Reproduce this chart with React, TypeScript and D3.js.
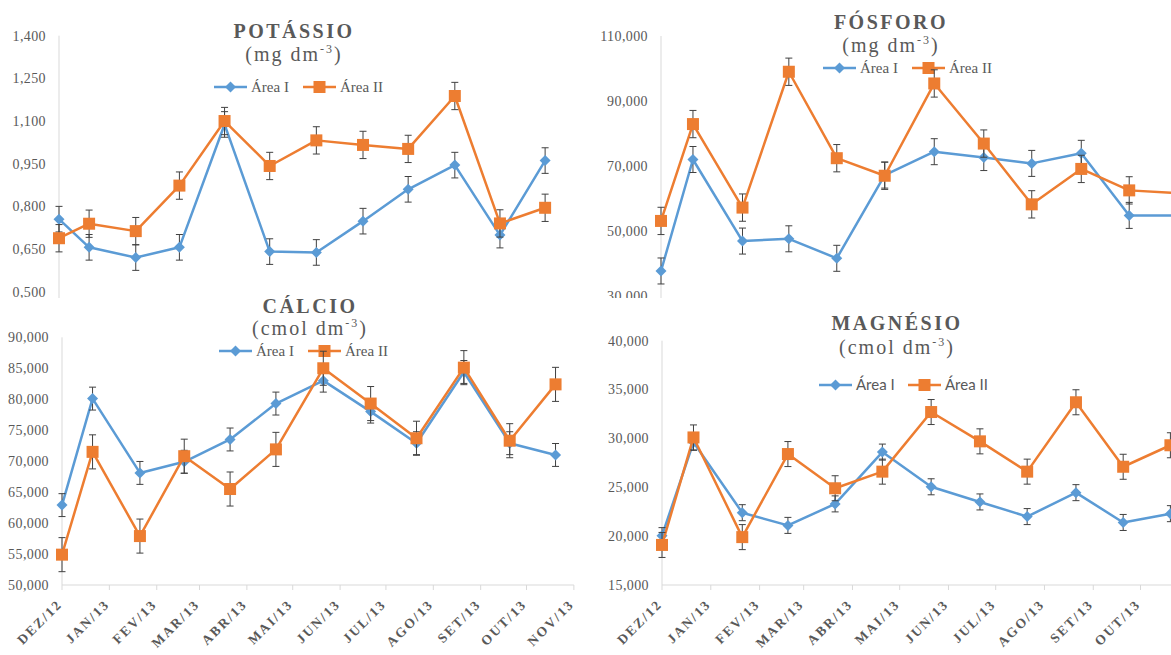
import React from 'react'
import * as d3 from 'd3'

const W = 1171
const H = 655
const BLUE = '#5B9BD5'
const ORANGE = '#ED7D31'
const GREY = '#595959'
const AXIS = '#D9D9D9'
const SERIF = '"Liberation Serif", "Times New Roman", serif'

// sampling dates (date axis, ticks on the 1st of each month)
const sampleDates = [
    '2012-12-01', '2012-12-21', '2013-01-21', '2013-02-19', '2013-03-21', '2013-04-20',
    '2013-05-21', '2013-06-21', '2013-07-21', '2013-08-21', '2013-09-20', '2013-10-20',
]
const monthLabels = [
    'DEZ/12', 'JAN/13', 'FEV/13', 'MAR/13', 'ABR/13', 'MAI/13',
    'JUN/13', 'JUL/13', 'AGO/13', 'SET/13', 'OUT/13', 'NOV/13',
]

const potassioA = [0.755, 0.656, 0.62, 0.656, 1.088, 0.641, 0.638, 0.748, 0.86, 0.945, 0.699, 0.961]
const potassioB = [0.688, 0.739, 0.713, 0.873, 1.1, 0.942, 1.032, 1.016, 1.002, 1.188, 0.74, 0.795]
const potassioErr = [0.045, 0.048]
const potassioTicks = [0.5, 0.65, 0.8, 0.95, 1.1, 1.25, 1.4]

const fosforoA = [37.7, 72.0, 46.9, 47.6, 41.6, 67.2, 74.4, 72.6, 70.8, 73.9, 54.8, 54.8]
const fosforoB = [53.1, 82.9, 57.2, 99.0, 72.4, 67.0, 95.4, 76.9, 58.2, 69.1, 62.5, 61.7]
const fosforoErr = [4.0, 4.2]
const fosforoTicks = [30, 50, 70, 90, 110]

const calcioA = [62.9, 80.1, 68.1, 69.9, 73.5, 79.3, 83.0, 78.0, 72.9, 84.4, 72.9, 71.0]
const calcioB = [54.9, 71.5, 57.9, 70.8, 65.5, 71.9, 85.0, 79.3, 73.7, 85.1, 73.3, 82.4]
const calcioErr = [1.85, 2.75]
const calcioTicks = [50, 55, 60, 65, 70, 75, 80, 85, 90]

const magnesioA = [20.05, 29.6, 22.4, 21.1, 23.3, 28.6, 25.05, 23.5, 22.0, 24.45, 21.4, 22.3]
const magnesioB = [19.1, 30.1, 19.9, 28.4, 24.9, 26.6, 32.7, 29.7, 26.6, 33.7, 27.1, 29.3]
const magnesioErr = [0.82, 1.28]
const magnesioTicks = [15, 20, 25, 30, 35, 40]

const parse = d3.timeParse('%Y-%m-%d')
const dates = sampleDates.map((d) => parse(d) as Date)
const axisStart = new Date(2012, 11, 1)
const axisEnd = new Date(2013, 10, 1)
const monthTicks = d3.timeMonth.range(axisStart, d3.timeDay.offset(axisEnd, 1))
const fmt = (v: number) => d3.format('.3f')(v).replace('.', ',')

const panels = [
    {
        clip: [0, 0, 590, 298], title: 'POTÁSSIO', unit: 'mg dm', cx: 294, titleY: 38, unitY: 61,
        legX: 214, legY: 87, legFont: SERIF, x0: 59, ppd: 1.505,
        yDomain: [0.5, 1.4], yRange: [291.7, 35.7], ticks: potassioTicks,
        a: potassioA, b: potassioB, err: potassioErr, showX: false,
    },
    {
        clip: [590, 0, 581, 298], title: 'FÓSFORO', unit: 'mg dm', cx: 891, titleY: 29, unitY: 52,
        legX: 823, legY: 68, legFont: SERIF, x0: 661, ppd: 1.598,
        yDomain: [30, 110], yRange: [296, 36], ticks: fosforoTicks,
        a: fosforoA, b: fosforoB, err: fosforoErr, showX: false,
    },
    {
        clip: [0, 288, 590, 367], title: 'CÁLCIO', unit: 'cmol dm', cx: 310, titleY: 312.5, unitY: 335,
        legX: 219, legY: 351, legFont: SERIF, x0: 62, ppd: 1.528,
        yDomain: [50, 90], yRange: [585, 337.3], ticks: calcioTicks,
        a: calcioA, b: calcioB, err: calcioErr, showX: true,
    },
    {
        clip: [590, 300, 581, 355], title: 'MAGNÉSIO', unit: 'cmol dm', cx: 897, titleY: 330, unitY: 354,
        legX: 819, legY: 385, legFont: 'Lato, "Open Sans", sans-serif', x0: 662, ppd: 1.574,
        yDomain: [15, 40], yRange: [585, 340.7], ticks: magnesioTicks,
        a: magnesioA, b: magnesioB, err: magnesioErr, showX: true,
    },
]

const diamond = (x: number, y: number, r: number) => `M${x},${y - r}L${x + r},${y}L${x},${y + r}L${x - r},${y}Z`

const Marker = ({ kind, x, y, color }) =>
    kind === 'diamond' ? (
        <path d={diamond(x, y, 5.5)} fill={color} />
    ) : (
        <rect x={x - 6} y={y - 6} width={12} height={12} fill={color} />
    )

const Panel = ({ p }) => {
    const [cx0, cy0, cw, ch] = p.clip
    const x = d3.scaleTime().domain([axisStart, axisEnd]).range([p.x0, p.x0 + 335 * p.ppd])
    const y = d3.scaleLinear().domain(p.yDomain).range(p.yRange)
    const line = d3
        .line<number>()
        .x((_, i) => x(dates[i]))
        .y((v) => y(v))
    const series = [
        { vals: p.a, err: p.err[0], color: BLUE, kind: 'diamond', name: 'Área I' },
        { vals: p.b, err: p.err[1], color: ORANGE, kind: 'square', name: 'Área II' },
    ]
    const axisY = p.yRange[0]
    const right = cx0 + cw
    const xEnd = Math.min(x(axisEnd), right)

    return (
        <svg x={cx0} y={cy0} width={cw} height={ch} viewBox={`${cx0} ${cy0} ${cw} ${ch}`}>
            {/* y axis */}
            <line x1={p.x0} x2={p.x0} y1={p.yRange[1]} y2={p.showX ? axisY : cy0 + ch} stroke={AXIS} />
            {p.ticks.map((t) => (
                <text
                    key={t}
                    x={p.x0 - 13}
                    y={y(t)}
                    dy="0.35em"
                    textAnchor="end"
                    fontFamily={SERIF}
                    fontSize={14}
                    letterSpacing={0.4}
                    fill={GREY}
                >
                    {fmt(t)}
                </text>
            ))}

            {/* x axis */}
            {p.showX && (
                <g>
                    <line x1={p.x0} x2={xEnd} y1={axisY} y2={axisY} stroke={AXIS} />
                    {monthTicks
                        .filter((t) => x(t) <= right)
                        .map((t, i) => (
                            <g key={i}>
                                <line x1={x(t)} x2={x(t)} y1={axisY} y2={axisY + 5} stroke={AXIS} />
                                <text
                                    transform={`translate(${x(t) + 1},${axisY + 20}) rotate(-45)`}
                                    textAnchor="end"
                                    fontFamily={SERIF}
                                    fontWeight="bold"
                                    fontSize={13.5}
                                    letterSpacing={2}
                                    fill={GREY}
                                >
                                    {monthLabels[i]}
                                </text>
                            </g>
                        ))}
                </g>
            )}

            {/* titles */}
            <text x={p.cx} y={p.titleY} textAnchor="middle" fontFamily={SERIF} fontWeight="bold" fontSize={20} letterSpacing={2.5} fill={GREY}>
                {p.title}
            </text>
            <text x={p.cx} y={p.unitY} textAnchor="middle" fontFamily={SERIF} fontSize={20} letterSpacing={2} fill={GREY}>
                ({p.unit}
                <tspan fontSize={12} dy={-8}>-3</tspan>
                <tspan dy={8}>)</tspan>
            </text>

            {/* legend */}
            {series.map((s, i) => {
                const lx = p.legX + i * 89
                return (
                    <g key={s.name}>
                        <line x1={lx} x2={lx + 33} y1={p.legY} y2={p.legY} stroke={s.color} strokeWidth={2.5} />
                        <Marker kind={s.kind} x={lx + 16.5} y={p.legY} color={s.color} />
                        <text x={lx + 37} y={p.legY} dy="0.35em" fontFamily={p.legFont} fontSize={15} fill={GREY}>
                            {s.name}
                        </text>
                    </g>
                )
            })}

            {/* series */}
            {series.map((s) => (
                <g key={s.name}>
                    <path d={line(s.vals)} fill="none" stroke={s.color} strokeWidth={2.5} strokeLinejoin="round" />
                    {s.vals.map((v, i) => {
                        const px = x(dates[i])
                        const top = y(v + s.err)
                        const bot = y(v - s.err)
                        return (
                            <g key={i} stroke="#404040" strokeWidth={1}>
                                <line x1={px} x2={px} y1={top} y2={bot} />
                                <line x1={px - 3.5} x2={px + 3.5} y1={top} y2={top} />
                                <line x1={px - 3.5} x2={px + 3.5} y1={bot} y2={bot} />
                            </g>
                        )
                    })}
                    {s.vals.map((v, i) => (
                        <Marker key={i} kind={s.kind} x={x(dates[i])} y={y(v)} color={s.color} />
                    ))}
                </g>
            ))}
        </svg>
    )
}

export default function App() {
    return (
        <svg width={W} height={H} style={{ position: 'absolute', left: 0, top: 0, background: '#fff' }}>
            <rect width={W} height={H} fill="#fff" />
            {panels.map((p) => (
                <Panel key={p.title} p={p} />
            ))}
        </svg>
    )
}
